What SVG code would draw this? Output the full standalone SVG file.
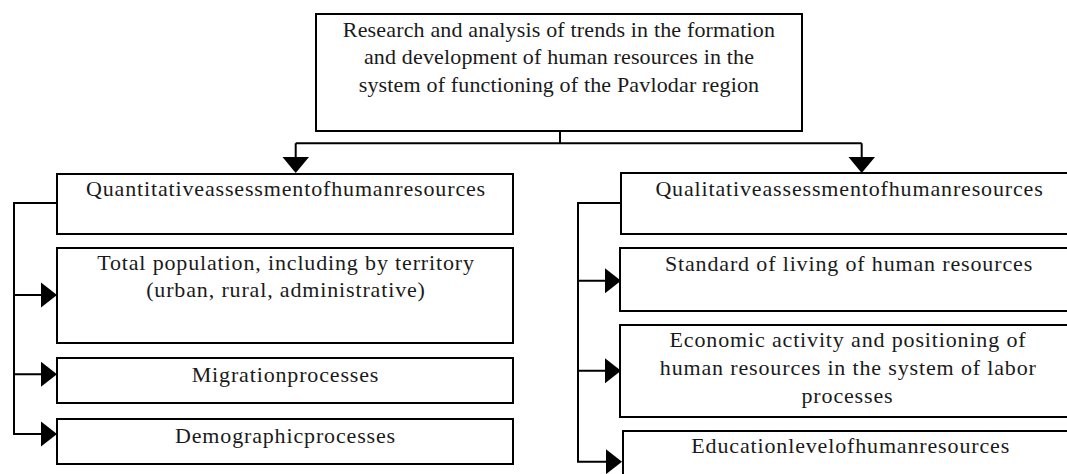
<svg xmlns="http://www.w3.org/2000/svg" width="1067" height="474" viewBox="0 0 1067 474">
<style>
.box{fill:#fff;stroke:#000;stroke-width:2}
.ln{fill:none;stroke:#000;stroke-width:2}
.ah{fill:#000;stroke:none}
.t{font-size:22px;fill:#1a1a1a;text-anchor:middle;letter-spacing:0.85px}
.tt{font-size:22px;fill:#1a1a1a;text-anchor:middle;letter-spacing:0.16px}
</style>
<rect width="1067" height="474" fill="#fff"/>
<g id="connectors">
<path class="ln" d="M560 131 V143.3 M295.7 143.3 H861.7 M295.7 143.3 V158 M861.7 143.3 V158"/>
<polygon class="ah" points="282.5,157 309,157 295.7,173"/>
<polygon class="ah" points="848.5,157 875,157 861.7,173"/>
<path class="ln" d="M57 203 H14 V434 H42 M14 295 H42 M14 374.3 H42"/>
<polygon class="ah" points="41,282.5 41,307.5 57,295"/>
<polygon class="ah" points="41,361.8 41,386.8 57,374.3"/>
<polygon class="ah" points="41,421.5 41,446.5 57,434"/>
<path class="ln" d="M621 203 H578 V461.7 H606 M578 280.7 H606 M578 370.7 H606"/>
<polygon class="ah" points="605,268.2 605,293.2 621,280.7"/>
<polygon class="ah" points="605,358.2 605,383.2 621,370.7"/>
<polygon class="ah" points="606,449.2 606,474.2 622,461.7"/>
</g>
<g id="top">
<rect class="box" x="316" y="14" width="486" height="117"/>
<text class="tt" font-family="Liberation Serif, serif" x="559" y="36.5">Research and analysis of trends in the formation</text>
<text class="tt" font-family="Liberation Serif, serif" x="559" y="64.3">and development of human resources in the</text>
<text class="tt" font-family="Liberation Serif, serif" x="559" y="92">system of functioning of the Pavlodar region</text>
</g>
<g id="quantitative">
<rect class="box" x="57" y="174" width="456" height="60"/>
<text class="t" font-family="Liberation Serif, serif" x="286" y="196">Quantitativeassessmentofhumanresources</text>
</g>
<g id="population">
<rect class="box" x="57" y="248" width="456" height="95"/>
<text class="t" font-family="Liberation Serif, serif" x="286" y="270" letter-spacing="0.72">Total population, including by territory</text>
<text class="t" font-family="Liberation Serif, serif" x="286" y="297" letter-spacing="0.79">(urban, rural, administrative)</text>
</g>
<g id="migration">
<rect class="box" x="57" y="358" width="456" height="45"/>
<text class="t" font-family="Liberation Serif, serif" x="285.5" y="381.7">Migrationprocesses</text>
</g>
<g id="demographic">
<rect class="box" x="57" y="419" width="456" height="45"/>
<text class="t" font-family="Liberation Serif, serif" x="285.5" y="442.7">Demographicprocesses</text>
</g>
<g id="qualitative">
<rect class="box" x="621" y="173" width="460" height="61"/>
<text class="t" font-family="Liberation Serif, serif" x="849.5" y="196">Qualitativeassessmentofhumanresources</text>
</g>
<g id="standard">
<rect class="box" x="620" y="248" width="460" height="63"/>
<text class="t" font-family="Liberation Serif, serif" x="849" y="270.7">Standard of living of human resources</text>
</g>
<g id="economic">
<rect class="box" x="620" y="325" width="460" height="92"/>
<text class="t" font-family="Liberation Serif, serif" x="848" y="347.3">Economic activity and positioning of</text>
<text class="t" font-family="Liberation Serif, serif" x="848.3" y="375">human resources in the system of labor</text>
<text class="t" font-family="Liberation Serif, serif" x="847.5" y="402.7">processes</text>
</g>
<g id="education">
<rect class="box" x="623" y="431" width="460" height="60"/>
<text class="t" font-family="Liberation Serif, serif" x="850.7" y="452.5">Educationlevelofhumanresources</text>
</g>
</svg>
